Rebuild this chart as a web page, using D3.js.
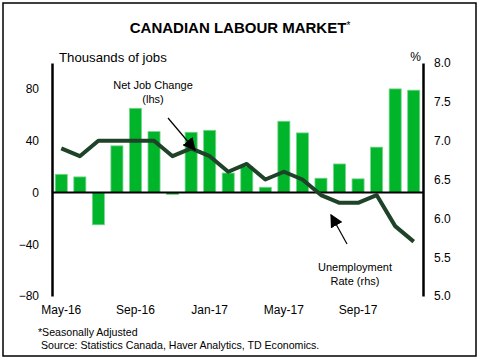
<!DOCTYPE html>
<html><head><meta charset="utf-8">
<script src="https://cdn.jsdelivr.net/npm/d3@7"></script>
<style>body{margin:0;background:#fff}svg{font-family:"Liberation Sans",Arial,sans-serif}</style>
</head><body><svg id="c" width="482" height="360"></svg>
<script>
const months = ["May-16","Jun-16","Jul-16","Aug-16","Sep-16","Oct-16","Nov-16","Dec-16","Jan-17","Feb-17","Mar-17","Apr-17","May-17","Jun-17","Jul-17","Aug-17","Sep-17","Oct-17","Nov-17","Dec-17"];
const jobChange = [14,12,-25,36,65,47,-1.5,46.5,48,15,20,4,55,46,11,22,10.5,35,80,79];
const unempRate = [6.9,6.8,7.0,7.0,7.0,7.0,6.8,6.9,6.8,6.6,6.7,6.5,6.6,6.5,6.3,6.2,6.2,6.3,5.9,5.7];
const xTickLabels = ["May-16","Sep-16","Jan-17","May-17","Sep-17"];
const leftTicks = [80,40,0,-40,-80];
const rightTicks = [8.0,7.5,7.0,6.5,6.0,5.5,5.0];

const svg = d3.select("#c");
svg.append("rect").attr("x",3).attr("y",3).attr("width",473).attr("height",353)
  .attr("fill","none").attr("stroke","#000").attr("stroke-width",1.5);

const L=52, R=423, T=63, B=296;
const x = d3.scaleBand().domain(months).range([L,R]).paddingInner(0.35).paddingOuter(0.175);
const yL = d3.scaleLinear().domain([-80,100]).range([B,T]);
const yR = d3.scaleLinear().domain([5,8]).range([B,T]);

// title
const t = svg.append("text").attr("x",240).attr("y",33).attr("text-anchor","middle")
  .attr("font-size",15).attr("font-weight","bold").attr("fill","#000");
t.append("tspan").text("CANADIAN LABOUR MARKET");
t.append("tspan").text("*").attr("font-size",10).attr("font-weight","normal").attr("dy",-4);

svg.append("text").attr("x",59).attr("y",62).attr("font-size",13.2).text("Thousands of jobs");
svg.append("text").attr("x",421).attr("y",61).attr("text-anchor","end").attr("font-size",12).text("%");

// bars
svg.append("g").selectAll("rect").data(jobChange).join("rect")
  .attr("x",(d,i)=>x(months[i])).attr("width",x.bandwidth())
  .attr("y",d=>yL(Math.max(0,d))).attr("height",d=>Math.abs(yL(d)-yL(0)))
  .attr("fill","#00b52a").attr("stroke","#7ad48f").attr("stroke-width",0.8);

// zero line
svg.append("line").attr("x1",L).attr("x2",R).attr("y1",yL(0)).attr("y2",yL(0))
  .attr("stroke","#000").attr("stroke-width",2);

// unemployment line
const line = d3.line().x((d,i)=>x(months[i])+x.bandwidth()/2).y(d=>yR(d));
svg.append("path").datum(unempRate).attr("d",line).attr("fill","none")
  .attr("stroke","#1e4328").attr("stroke-width",4).attr("stroke-linejoin","round");

// axes
const axL = d3.axisLeft(yL).tickValues(leftTicks).tickSize(0).tickPadding(13).tickFormat(d3.format("d"));
const gL = svg.append("g").attr("transform",`translate(${L},0)`).call(axL);
gL.select(".domain").attr("stroke","#000").attr("stroke-width",2.5);
gL.selectAll("text").attr("font-size",12).attr("font-family","Liberation Sans, Arial").attr("fill","#000");

const axR = d3.axisRight(yR).tickValues(rightTicks).tickSize(0).tickPadding(11).tickFormat(d3.format(".1f"));
const gR = svg.append("g").attr("transform",`translate(${R},0)`).call(axR);
gR.select(".domain").attr("stroke","#000").attr("stroke-width",2.5);
gR.selectAll("text").attr("font-size",12).attr("font-family","Liberation Sans, Arial").attr("fill","#000");

// x labels
svg.append("g").selectAll("text").data(xTickLabels).join("text")
  .attr("x",d=>x(d)+x.bandwidth()/2).attr("y",314).attr("text-anchor","middle")
  .attr("font-size",12).text(d=>d);

// annotations
const defs = svg.append("defs");
defs.append("marker").attr("id","ah").attr("viewBox","0 0 10 10").attr("refX",9).attr("refY",5)
  .attr("markerWidth",13).attr("markerHeight",13).attr("markerUnits","userSpaceOnUse").attr("orient","auto")
  .append("path").attr("d","M0,0 L10,5 L0,10 z").attr("fill","#000");

svg.append("text").attr("x",153).attr("y",89).attr("text-anchor","middle").attr("font-size",11).text("Net Job Change");
svg.append("text").attr("x",153).attr("y",103).attr("text-anchor","middle").attr("font-size",11).text("(lhs)");
svg.append("line").attr("x1",168).attr("y1",118).attr("x2",195).attr("y2",150)
  .attr("stroke","#000").attr("stroke-width",1.2).attr("marker-end","url(#ah)");

svg.append("text").attr("x",355).attr("y",271).attr("text-anchor","middle").attr("font-size",11).text("Unemployment");
svg.append("text").attr("x",355).attr("y",285).attr("text-anchor","middle").attr("font-size",11).text("Rate (rhs)");
svg.append("line").attr("x1",347).attr("y1",244).attr("x2",331).attr("y2",215)
  .attr("stroke","#000").attr("stroke-width",1.2).attr("marker-end","url(#ah)");

// footnotes
svg.append("text").attr("x",38).attr("y",336).attr("font-size",10.6).text("*Seasonally Adjusted");
svg.append("text").attr("x",41).attr("y",349).attr("font-size",10.6).text("Source: Statistics Canada, Haver Analytics, TD Economics.");
</script></body></html>
